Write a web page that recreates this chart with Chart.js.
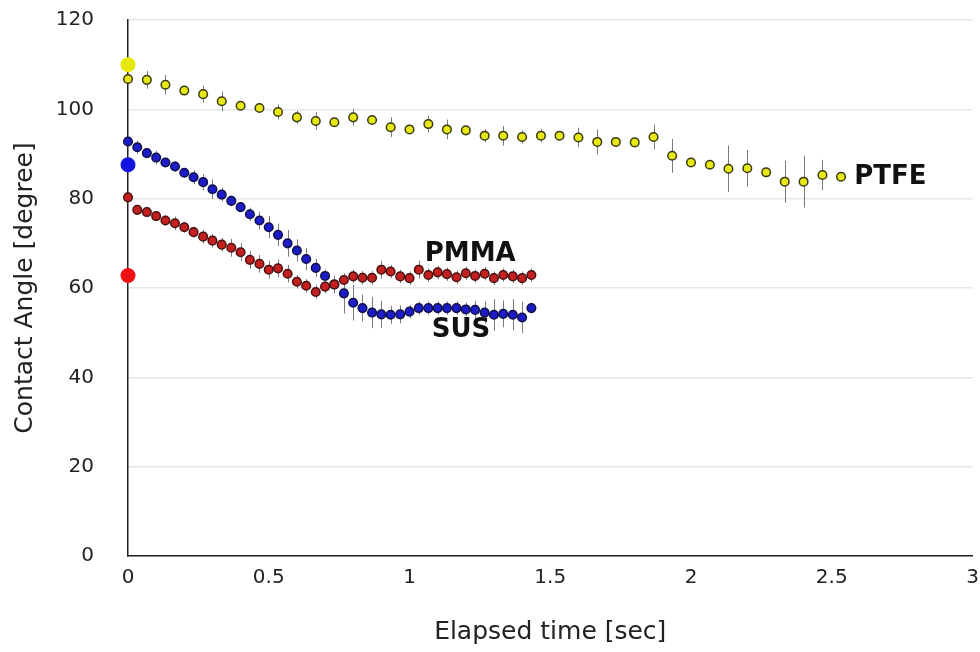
<!DOCTYPE html>
<html>
<head>
<meta charset="utf-8">
<script src="https://cdn.jsdelivr.net/npm/chart.js@4"></script>
<style>
  body { margin: 0; background: #fff; }
  #wrap { width: 980px; height: 652px; }
</style>
</head>
<body>
<div id="wrap"><canvas id="angle" width="980" height="652"></canvas></div>
<script>
// elapsed time [sec]
const ptfeTimes = [0, 0.067, 0.133, 0.2, 0.267, 0.333, 0.4, 0.467, 0.533, 0.6, 0.667, 0.733, 0.8, 0.867, 0.933,
  1, 1.067, 1.133, 1.2, 1.267, 1.333, 1.4, 1.467, 1.533, 1.6, 1.667, 1.733, 1.8, 1.867, 1.933,
  2, 2.067, 2.133, 2.2, 2.267, 2.333, 2.4, 2.467, 2.533];
const susTimes = [0, 0.033, 0.067, 0.1, 0.133, 0.167, 0.2, 0.233, 0.267, 0.3, 0.333, 0.367, 0.4, 0.433, 0.467,
  0.5, 0.533, 0.567, 0.6, 0.633, 0.667, 0.7, 0.733, 0.767, 0.8, 0.833, 0.867, 0.9, 0.933, 0.967,
  1, 1.033, 1.067, 1.1, 1.133, 1.167, 1.2, 1.233, 1.267, 1.3, 1.333, 1.367, 1.4, 1.433];
const pmmaTimes = susTimes;

// contact angle [degree]
const ptfeAngle = [106.8, 106.6, 105.5, 104.2, 103.4, 101.8, 100.8, 100.3, 99.4, 98.2, 97.4, 97.1, 98.2, 97.6, 96.0,
  95.5, 96.7, 95.5, 95.3, 94.1, 94.1, 93.8, 94.1, 94.1, 93.7, 92.7, 92.7, 92.6, 93.8, 89.6,
  88.1, 87.6, 86.7, 86.8, 85.9, 83.8, 83.8, 85.3, 84.9];
const ptfeErr = [1, 2, 2.2, 1, 1.9, 2.2, 1, 1, 1.7, 1.5, 2, 1, 1.9, 1, 2.2,
  1, 1.9, 2.2, 1, 1.5, 2.2, 1.5, 1.5, 1, 2.2, 2.8, 1, 1, 2.8, 3.8,
  1, 1, 5.2, 4.1, 1, 4.7, 5.8, 3.4, 1];

const susAngle = [92.8, 91.5, 90.2, 89.2, 88.1, 87.2, 85.8, 84.8, 83.7, 82.1, 80.9, 79.5, 78.1, 76.5, 75.1,
  73.6, 71.9, 70.0, 68.4, 66.5, 64.5, 62.7, 60.8, 58.8, 56.7, 55.5, 54.5, 54.1, 54.0, 54.1,
  54.7, 55.5, 55.5, 55.5, 55.5, 55.5, 55.2, 55.1, 54.5, 54.0, 54.2, 54.0, 53.4, 55.5];
const susErr = [0.5, 1.5, 1, 1.5, 1, 1.2, 1, 1.5, 1.8, 2.2, 1.5, 1.2, 1, 1.5, 2,
  2.5, 2.5, 3, 2.5, 2.5, 2, 1.5, 2, 4.5, 4, 3, 3.5, 3, 2, 2,
  1.5, 1.5, 1.5, 1.5, 1.5, 1.5, 1.5, 2, 2.5, 3.5, 3, 3.5, 3.5, 1];

const pmmaAngle = [80.3, 77.5, 77.0, 76.1, 75.1, 74.5, 73.6, 72.5, 71.5, 70.6, 69.7, 69.0, 68.0, 66.3, 65.4,
  64.1, 64.4, 63.2, 61.4, 60.5, 59.1, 60.3, 60.8, 61.8, 62.6, 62.3, 62.3, 64.1, 63.7, 62.6,
  62.2, 64.1, 62.9, 63.5, 63.1, 62.4, 63.3, 62.7, 63.2, 62.2, 62.9, 62.6, 62.2, 62.9];
const pmmaErr = [0.5, 1, 1, 1, 1.2, 1.5, 1.2, 1.2, 1.5, 1.5, 1.5, 2, 2, 2, 2,
  2, 2, 2, 1.5, 1.5, 1.5, 1.5, 1.5, 1.5, 1.5, 1.5, 1.5, 2, 1.5, 1.5,
  1.5, 2, 1.5, 1.5, 1.5, 1.5, 1.5, 1.5, 1.5, 1.5, 1.5, 1.5, 1.5, 1.5];

// initial (static) angle at t = 0
const initTimes = [0];
const ptfeInit = [110];
const susInit = [87.6];
const pmmaInit = [62.8];

// series names placed next to the curves
const seriesLabels = ['PTFE', 'PMMA', 'SUS'];
const labelAt = [[2.58, 84.9], [1.054, 67.6], [1.079, 50.6]];

const xTicks = [0, 0.5, 1, 1.5, 2, 2.5, 3];
const yTicks = [0, 20, 40, 60, 80, 100, 120];

const toPts = (xs, ys) => ys.map((y, i) => ({ x: xs[i], y: y }));
const axisFont = '"DejaVu Sans", Arial, sans-serif';

// vertical error bars, drawn under the points
const errorBars = {
  id: 'errorBars',
  beforeDatasetsDraw(chart) {
    const ctx = chart.ctx;
    const xs = chart.scales.x, ys = chart.scales.y;
    const sets = [[ptfeTimes, ptfeAngle, ptfeErr], [susTimes, susAngle, susErr], [pmmaTimes, pmmaAngle, pmmaErr]];
    ctx.save();
    ctx.strokeStyle = '#7a7a7a';
    ctx.lineWidth = 1;
    sets.forEach(([t, v, e]) => {
      v.forEach((val, i) => {
        const px = Math.round(xs.getPixelForValue(t[i])) + 0.5;
        ctx.beginPath();
        ctx.moveTo(px, ys.getPixelForValue(val - e[i]));
        ctx.lineTo(px, ys.getPixelForValue(val + e[i]));
        ctx.stroke();
      });
    });
    ctx.restore();
  }
};

const seriesText = {
  id: 'seriesText',
  afterDatasetsDraw(chart) {
    const ctx = chart.ctx;
    ctx.save();
    ctx.font = 'bold 26px "DejaVu Sans", Arial, sans-serif';
    ctx.fillStyle = '#111';
    ctx.textAlign = 'left';
    ctx.textBaseline = 'middle';
    seriesLabels.forEach((s, i) => {
      ctx.fillText(s, chart.scales.x.getPixelForValue(labelAt[i][0]), chart.scales.y.getPixelForValue(labelAt[i][1]));
    });
    ctx.restore();
  }
};

const small = (data, fill, edge, order) => ({
  data: data, order: order, showLine: false, clip: false,
  pointRadius: 4.3, pointBackgroundColor: fill, pointBorderColor: edge, pointBorderWidth: 1.5
});
const big = (data, fill, order) => ({
  data: data, order: order, showLine: false, clip: false,
  pointRadius: 7.5, pointBackgroundColor: fill, pointBorderColor: fill, pointBorderWidth: 0
});

new Chart(document.getElementById('angle'), {
  type: 'scatter',
  data: {
    datasets: [
      big(toPts(initTimes, ptfeInit), '#e8e80c', 0),
      big(toPts(initTimes, susInit), '#1414e0', 0),
      big(toPts(initTimes, pmmaInit), '#f01010', 0),
      small(toPts(pmmaTimes, pmmaAngle), '#c42020', '#4a1010', 2),
      small(toPts(susTimes, susAngle), '#1c1cc8', '#10104a', 3),
      small(toPts(ptfeTimes, ptfeAngle), '#e8e814', '#3a3a10', 1)
    ]
  },
  options: {
    responsive: false,
    animation: false,
    layout: { padding: { top: 20, right: 5, left: 0, bottom: 0 } },
    plugins: { legend: { display: false }, tooltip: { enabled: false } },
    scales: {
      x: {
        type: 'linear', min: 0, max: 3,
        afterFit: s => { s.height = 96; s.paddingLeft = 0; s.paddingRight = 0; },
        afterBuildTicks: s => { s.ticks = xTicks.map(v => ({ value: v })); },
        grid: { display: false, drawTicks: false },
        border: { display: true, color: '#222', width: 1.5 },
        ticks: { padding: 10, color: '#222', font: { family: axisFont, size: 20 }, maxRotation: 0,
          callback: v => String(v) },
        title: { display: true, text: 'Elapsed time [sec]', color: '#222',
          font: { family: axisFont, size: 25 }, padding: { top: 0, bottom: 5 } }
      },
      y: {
        min: 0, max: 120,
        afterFit: s => { s.width = 128; s.paddingTop = 0; s.paddingBottom = 0; },
        afterBuildTicks: s => { s.ticks = yTicks.map(v => ({ value: v })); },
        grid: { color: '#e6e6e6', lineWidth: 1.5, drawTicks: false },
        border: { display: true, color: '#222', width: 1.5 },
        ticks: { padding: 34, crossAlign: 'near', color: '#222', font: { family: axisFont, size: 20 } },
        title: { display: true, text: 'Contact Angle [degree]', color: '#222',
          font: { family: axisFont, size: 25 }, padding: { top: 10, bottom: 0 } }
      }
    }
  },
  plugins: [errorBars, seriesText]
});
</script>
</body>
</html>
